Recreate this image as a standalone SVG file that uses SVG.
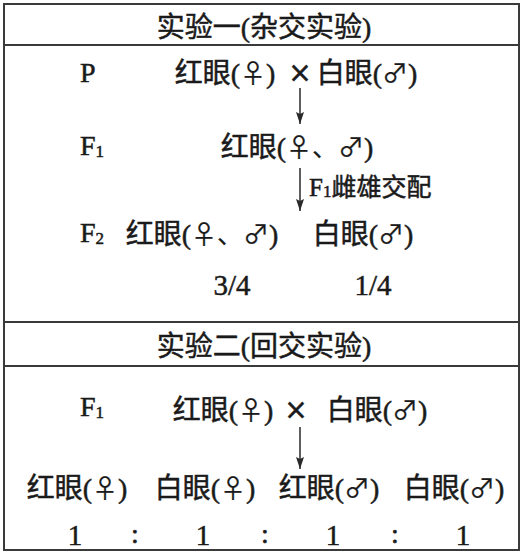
<svg xmlns="http://www.w3.org/2000/svg" width="523" height="554" viewBox="0 0 523 554">
<defs>
<style>
.t{font-family:"Liberation Serif","Noto Sans CJK SC",serif;font-size:28px;fill:#1a1a1a;stroke:#1a1a1a;stroke-width:0.5px;text-anchor:middle}
.s{text-anchor:start}
.lab{font-family:"Liberation Serif","Noto Sans CJK SC",serif;font-size:25px;fill:#1a1a1a;stroke:#1a1a1a;stroke-width:0.5px}
.sub{font-size:17px}
.g{font-family:"Noto Sans CJK SC","DejaVu Sans",sans-serif;font-size:26px;stroke-width:0.2px}
.x{font-family:"DejaVu Sans",sans-serif;font-size:28px}
.frame{fill:none;stroke:#3a3a3a;stroke-width:2}
.conn{stroke:#2a2a2a;stroke-width:1.5;fill:none;marker-end:url(#ah)}
</style>
<marker id="ah" markerUnits="userSpaceOnUse" markerWidth="14" markerHeight="10" refX="12" refY="4" orient="auto">
<path d="M0,0 L12,4 L0,8 L2,4 z" fill="#2a2a2a"/>
</marker>
</defs>
<rect width="523" height="554" fill="#fff"/>
<g id="frame">
<rect class="frame" x="4" y="4" width="515" height="546"/>
<line class="frame" x1="4" y1="45" x2="519" y2="45"/>
<line class="frame" x1="4" y1="322" x2="519" y2="322"/>
<line class="frame" x1="4" y1="366" x2="519" y2="366"/>
</g>
<g id="connectors">
<line class="conn" x1="300" y1="88" x2="300" y2="124"/>
<line class="conn" x1="300" y1="168" x2="300" y2="211"/>
<line class="conn" x1="300" y1="427" x2="300" y2="469"/>
</g>
<g id="title1"><text class="t" x="264" y="37">实验一(杂交实验)</text></g>
<g id="p-label"><text class="t s" x="80" y="82">P</text></g>
<g id="p-female"><text class="t" x="225" y="83">红眼(<tspan class="g">♀</tspan>)</text></g>
<g id="p-cross"><text class="t x" x="300" y="82">×</text></g>
<g id="p-male"><text class="t" x="367" y="83">白眼(<tspan class="g">♂</tspan>)</text></g>
<g id="f1-label"><text class="t s" x="80" y="155">F<tspan class="sub" dy="2">1</tspan></text></g>
<g id="f1-red"><text class="t" x="297" y="157">红眼(<tspan class="g">♀、♂</tspan>)</text></g>
<g id="mating-label"><text class="lab" x="309" y="196">F<tspan class="sub" dy="1">1</tspan><tspan dy="-1">雌雄交配</tspan></text></g>
<g id="f2-label"><text class="t s" x="80" y="242">F<tspan class="sub" dy="2">2</tspan></text></g>
<g id="f2-red"><text class="t" x="202" y="244">红眼(<tspan class="g">♀、♂</tspan>)</text></g>
<g id="f2-white"><text class="t" x="363" y="244">白眼(<tspan class="g">♂</tspan>)</text></g>
<g id="ratio-34"><text class="t" x="232" y="295" style="font-size:29px">3/4</text></g>
<g id="ratio-14"><text class="t" x="373" y="295" style="font-size:29px">1/4</text></g>
<g id="title2"><text class="t" x="264" y="356">实验二(回交实验)</text></g>
<g id="bc-label"><text class="t s" x="80" y="416">F<tspan class="sub" dy="2">1</tspan></text></g>
<g id="bc-female"><text class="t" x="223" y="420">红眼(<tspan class="g">♀</tspan>)</text></g>
<g id="bc-cross"><text class="t x" x="296" y="419">×</text></g>
<g id="bc-male"><text class="t" x="377" y="420">白眼(<tspan class="g">♂</tspan>)</text></g>
<g id="o1"><text class="t" x="77" y="498">红眼(<tspan class="g">♀</tspan>)</text></g>
<g id="o2"><text class="t" x="205" y="498">白眼(<tspan class="g">♀</tspan>)</text></g>
<g id="o3"><text class="t" x="329" y="498">红眼(<tspan class="g">♂</tspan>)</text></g>
<g id="o4"><text class="t" x="454" y="498">白眼(<tspan class="g">♂</tspan>)</text></g>
<g id="ratios">
<text class="t" x="75" y="545" style="font-size:29px">1</text>
<text class="t" x="135" y="543">:</text>
<text class="t" x="203" y="545" style="font-size:29px">1</text>
<text class="t" x="265" y="543">:</text>
<text class="t" x="333" y="545" style="font-size:29px">1</text>
<text class="t" x="395" y="543">:</text>
<text class="t" x="463" y="545" style="font-size:29px">1</text>
</g>
</svg>
